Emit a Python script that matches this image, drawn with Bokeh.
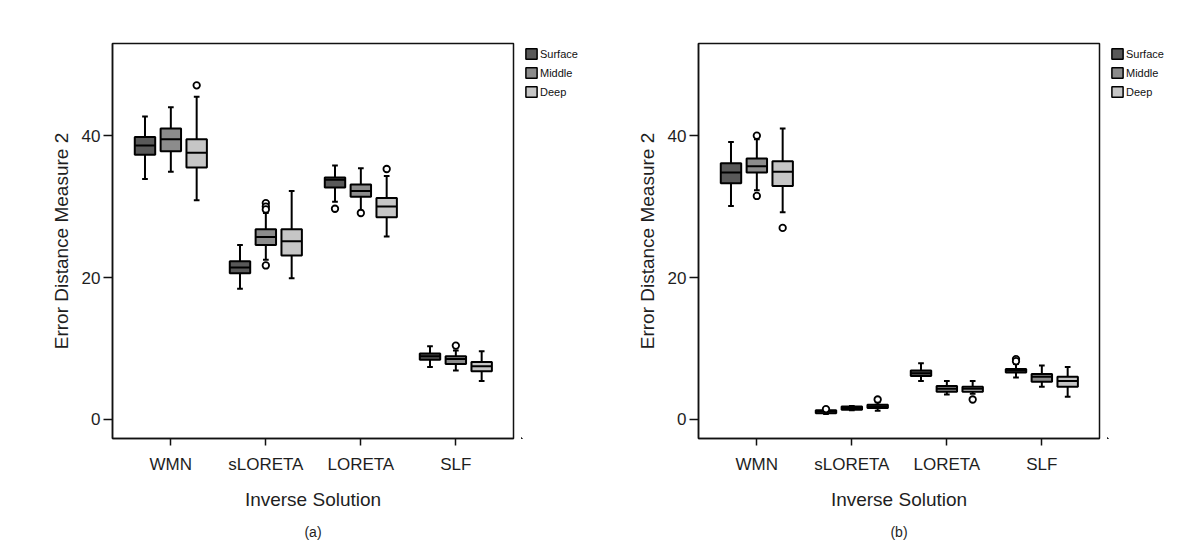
from bokeh.plotting import figure
from bokeh.layouts import row
from bokeh.models import ColumnDataSource, Range1d, FixedTicker, Legend, LegendItem, Title
from bokeh.embed import file_html
from bokeh.resources import INLINE

categories = ["WMN", "sLORETA", "LORETA", "SLF"]
groups = ["Surface", "Middle", "Deep"]
colors = ["#595959", "#8c8c8c", "#c6c6c6"]

# Panel (a): per category, per group: low whisker, q1, median, q3, high whisker
a_low = [33.9, 34.9, 30.9, 18.4, 22.5, 19.9, 30.7, 29.4, 25.8, 7.4, 6.9, 5.4]
a_q1 = [37.3, 37.8, 35.5, 20.6, 24.6, 23.1, 32.7, 31.4, 28.5, 8.4, 7.8, 6.8]
a_med = [38.6, 39.5, 37.6, 21.4, 25.7, 25.1, 33.8, 32.2, 30.0, 8.9, 8.5, 7.5]
a_q3 = [39.8, 41.0, 39.5, 22.3, 26.8, 26.8, 34.1, 33.1, 31.2, 9.3, 8.9, 8.1]
a_high = [42.7, 44.0, 45.5, 24.6, 29.1, 32.2, 35.8, 35.4, 34.3, 10.3, 9.7, 9.6]
a_out_cat = [0, 1, 1, 1, 1, 2, 2, 2, 3]
a_out_grp = [2, 1, 1, 1, 1, 0, 1, 2, 1]
a_out_val = [47.1, 30.5, 30.0, 29.6, 21.7, 29.7, 29.1, 35.3, 10.4]

# Panel (b)
b_low = [30.1, 32.3, 29.2, 0.75, 1.3, 1.2, 5.4, 3.5, 3.6, 5.9, 4.6, 3.2]
b_q1 = [33.3, 34.8, 32.9, 0.85, 1.37, 1.6, 6.1, 3.9, 3.9, 6.6, 5.3, 4.6]
b_med = [34.8, 35.7, 34.9, 1.1, 1.6, 1.85, 6.5, 4.3, 4.3, 6.9, 6.0, 5.4]
b_q3 = [36.1, 36.8, 36.4, 1.3, 1.83, 2.07, 6.9, 4.7, 4.6, 7.1, 6.4, 6.0]
b_high = [39.1, 39.5, 41.0, 1.6, 1.9, 2.4, 7.9, 5.4, 5.4, 7.8, 7.6, 7.4]
b_out_cat = [0, 0, 0, 1, 1, 2, 3, 3]
b_out_grp = [1, 1, 2, 0, 2, 2, 0, 0]
b_out_val = [40.0, 31.5, 27.0, 1.45, 2.8, 2.8, 8.5, 8.2]

y_ticks = [0, 20, 40]

OFFSET = 0.272
BOX_W = 0.215
CAP_W = 0.06
FONT = "Liberation Sans"
TXT = "#1e1e1e"
H = 550
TOP = 43
BOTTOM = 112


def make_panel(low, q1, med, q3, high, out_cat, out_grp, out_val, tag, left_border):
    p = figure(width=left_border + 401 + 2, height=H, output_backend="svg", toolbar_location=None,
               x_range=Range1d(-0.614, 3.607), y_range=Range1d(-2.7, 53.0),
               min_border_left=left_border, min_border_right=2, min_border_top=TOP,
               min_border_bottom=BOTTOM)
    p.background_fill_color = "white"
    p.border_fill_color = "white"
    p.outline_line_color = "#111111"
    p.outline_line_width = 1.5
    p.xgrid.visible = False
    p.ygrid.visible = False

    sources = []
    for g in range(3):
        idx = [c * 3 + g for c in range(4)]
        xs = [c + (g - 1) * OFFSET for c in range(4)]
        src = ColumnDataSource(dict(
            x=xs,
            low=[low[i] for i in idx], q1=[q1[i] for i in idx], med=[med[i] for i in idx],
            q3=[q3[i] for i in idx], high=[high[i] for i in idx],
            x0=[x - CAP_W / 2 for x in xs], x1=[x + CAP_W / 2 for x in xs],
            xb0=[x - BOX_W / 2 for x in xs], xb1=[x + BOX_W / 2 for x in xs],
        ))
        sources.append(src)
        p.segment(x0="x", y0="q3", x1="x", y1="high", source=src, line_color="black", line_width=2)
        p.segment(x0="x", y0="q1", x1="x", y1="low", source=src, line_color="black", line_width=2)
        p.segment(x0="x0", y0="high", x1="x1", y1="high", source=src, line_color="black", line_width=2)
        p.segment(x0="x0", y0="low", x1="x1", y1="low", source=src, line_color="black", line_width=2)
        p.vbar(x="x", width=BOX_W, bottom="q1", top="q3", source=src,
               fill_color=colors[g], line_color="black", line_width=2)
        p.segment(x0="xb0", y0="med", x1="xb1", y1="med", source=src, line_color="black", line_width=2)

    ox = [c + (g - 1) * OFFSET for c, g in zip(out_cat, out_grp)]
    p.scatter(x=ox, y=out_val, marker="circle", size=6.5, fill_color="white",
              line_color="black", line_width=1.8)

    p.xaxis.ticker = FixedTicker(ticks=list(range(len(categories))))
    p.xaxis.major_label_overrides = {i: c for i, c in enumerate(categories)}
    p.yaxis.ticker = FixedTicker(ticks=y_ticks)
    for ax in (p.xaxis[0], p.yaxis[0]):
        ax.axis_line_color = "#111111"
        ax.axis_line_width = 1.5
        ax.major_tick_line_color = "#111111"
        ax.major_tick_line_width = 1.5
        ax.major_tick_in = 0
        ax.minor_tick_line_color = None
        ax.major_label_text_font = FONT
        ax.major_label_text_font_size = "17px"
        ax.major_label_text_color = TXT
        ax.axis_label_text_font = FONT
        ax.axis_label_text_font_size = "19px"
        ax.axis_label_text_font_style = "normal"
        ax.axis_label_text_color = TXT
    p.xaxis.major_tick_out = 7
    p.yaxis.major_tick_out = 9
    p.xaxis.axis_label = "Inverse Solution"
    p.yaxis.axis_label = "Error Distance Measure 2"
    p.xaxis.major_label_standoff = 9
    p.xaxis.axis_label_standoff = 12
    p.yaxis.major_label_standoff = 3
    p.yaxis.axis_label_standoff = 7

    t = Title(text=tag, align="center", text_font=FONT, text_font_size="14px",
              text_font_style="normal", text_color=TXT, standoff=19)
    p.add_layout(t, "below")
    return p, sources


def make_legend_fig(width, sources):
    # separate legend canvas; box data reused but kept far outside the visible range
    lf = figure(width=width, height=H, output_backend="svg", toolbar_location=None,
                x_range=Range1d(100, 101), y_range=Range1d(1000, 1001),
                x_axis_location=None, y_axis_location=None,
                min_border_left=6, min_border_right=0, min_border_top=TOP,
                min_border_bottom=BOTTOM)
    lf.outline_line_color = None
    lf.xgrid.visible = False
    lf.ygrid.visible = False
    lf.background_fill_color = "white"
    lf.border_fill_color = "white"
    items = []
    for g in range(3):
        r = lf.vbar(x="x", width=BOX_W, top="q3", bottom="q1", source=sources[g],
                    fill_color=colors[g], line_color="black", line_width=1.5)
        items.append(LegendItem(label=groups[g], renderers=[r]))
    legend = Legend(items=items, location="top_left", glyph_width=14, glyph_height=13,
                    label_text_font=FONT, label_text_font_size="11px", label_text_color="#111111",
                    label_standoff=2, label_height=15, spacing=4, padding=0, margin=3,
                    border_line_color=None, background_fill_alpha=0)
    lf.add_layout(legend, "center")
    return lf


pa, sa = make_panel(a_low, a_q1, a_med, a_q3, a_high, a_out_cat, a_out_grp, a_out_val, "(a)", 112)
la = make_legend_fig(79, sa)
pb, sb = make_panel(b_low, b_q1, b_med, b_q3, b_high, b_out_cat, b_out_grp, b_out_val, "(b)", 104)
lb = make_legend_fig(79, sb)

layout = row(pa, la, pb, lb, spacing=0)
open("out.html", "w").write(file_html(layout, INLINE))
